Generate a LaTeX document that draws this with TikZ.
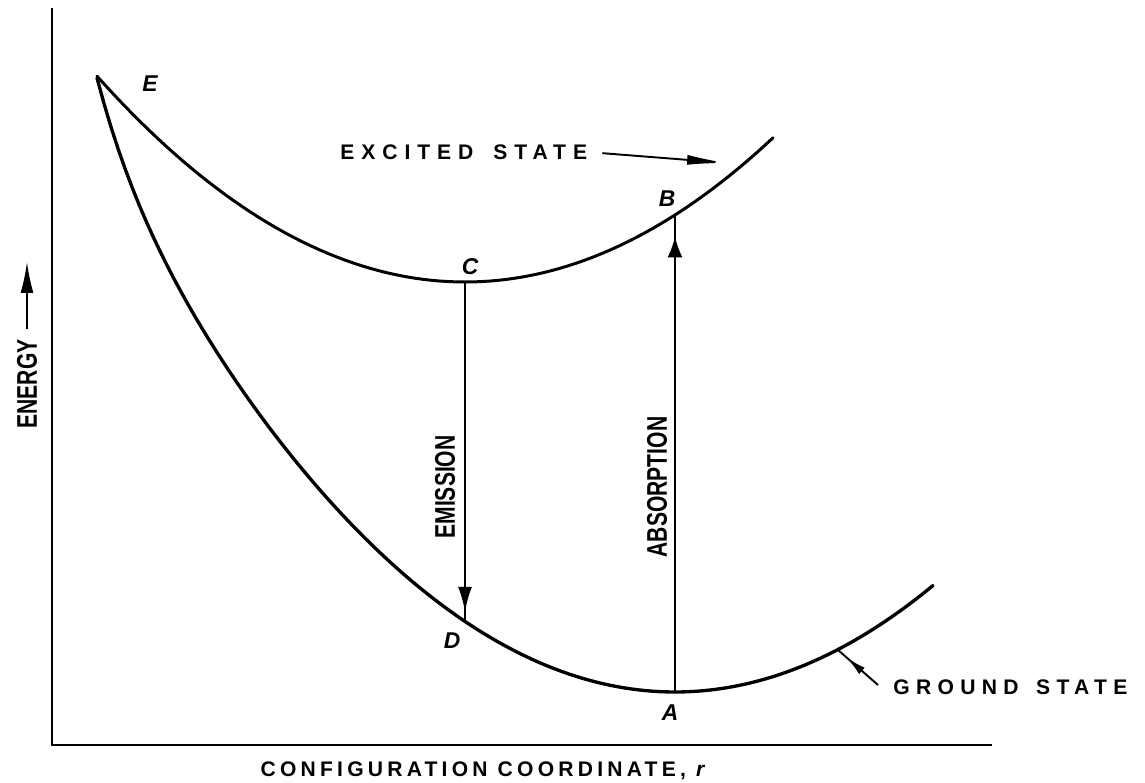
\documentclass[tikz,border=0pt]{standalone}
\usepackage{fontspec}
\setmainfont{Liberation Sans}
\newfontfamily\spaced[LetterSpace=20]{Liberation Sans}
\newfontfamily\wide[LetterSpace=33]{Liberation Sans}
\newfontfamily\gwide[LetterSpace=30]{Liberation Sans}
\usetikzlibrary{arrows.meta,decorations.markings,calc}
\begin{document}
\begin{tikzpicture}[x=0.02cm,y=-0.02cm,
  curve/.style={line width=1.7pt,line join=round,line cap=round},
  axis/.style={line width=1.7pt},
  trans/.style={line width=1.1pt},
  lbl/.style={font=\spaced\bfseries\fontsize{12}{14}\selectfont,inner sep=0pt},
  wlbl/.style={font=\wide\bfseries\fontsize{12}{14}\selectfont,inner sep=0pt},
  glbl/.style={font=\gwide\bfseries\fontsize{12}{14}\selectfont,inner sep=0pt},
  vlbl/.style={font=\bfseries\fontsize{12}{14}\selectfont,rotate=90,yscale=1.35,inner sep=0pt},
  pt/.style={font=\bfseries\itshape\fontsize{13}{15}\selectfont,inner sep=0pt},
  midtip/.style 2 args={postaction={decorate},decoration={markings,mark=at position #1 with {\arrow{#2}}}}]
\useasboundingbox (0,0) rectangle (1145,783);
% axes
\coordinate (Ytop) at (52,8);
\coordinate (O) at (52,745);
\coordinate (Xend) at (992,745);
\draw[axis] (Ytop) -- (O) -- (Xend);
% key points
\coordinate (E) at (97,78);
\coordinate (C) at (465,282);
\coordinate (B) at (675,215);
\coordinate (D) at (465,622);
\coordinate (A) at (675,692);
% excited state curve
\draw[curve] plot[domain=97:773,samples=80] (\x,{282-15.2*((\x-465)/100)^2});
% ground state curve
\draw[curve,line width=1.9pt] plot[domain=97:933,samples=120] (\x,{692-16*((\x-675)/100)^2-79.5*exp(-(\x-97)/40)});
% transitions
\draw[trans,midtip={0.97}{Latex[length=0.5cm,width=0.28cm]}] (C) -- (D);
\draw[trans,midtip={0.955}{Latex[length=0.42cm,width=0.3cm]}] (A) -- (B);
% point labels
\node[pt] (lE) at (150,84) {E};
\node[pt] (lC) at (470,267) {C};
\node[pt] (lB) at (667,199) {B};
\node[pt] (lD) at (452,641) {D};
\node[pt] (lA) at (670,713) {A};
% transition labels
\node[vlbl] (em) at (445,487) {EMISSION};
\node[vlbl] (ab) at (657,487) {ABSORPTION};
% state labels
\node[wlbl,anchor=west] (exc) at (340,152) {EXCITED\hspace{4pt} STATE};
\coordinate (excTip) at (727,163);
\draw[trans,-{Latex[length=0.8cm,width=0.2cm]},shorten <=0.3cm] (exc.east) -- (excTip);
\node[glbl,anchor=west] (gnd) at (893,687) {GROUND\hspace{3pt} STATE};
\coordinate (gndStart) at (878,685);
\coordinate (gndEnd) at (838,650);
\draw[trans,midtip={0.78}{Latex[length=0.4cm,width=0.17cm]}] (gndStart) -- (gndEnd);
% axis labels
\node[lbl] (xlab) at (485,771) {CONFIGURATION COORDINATE, \textit{r}};
\node[vlbl] (ylab) at (27,384) {ENERGY};
\coordinate (eTop) at (27,262);
\draw[trans,-{Latex[length=0.62cm,width=0.26cm]},shorten <=0.2cm] (ylab.east) -- (eTop);
\end{tikzpicture}
\end{document}
